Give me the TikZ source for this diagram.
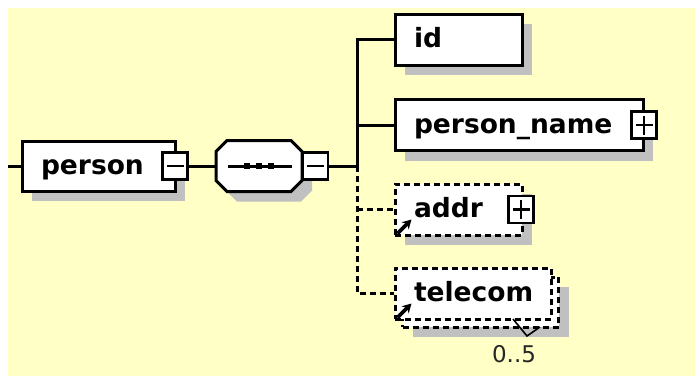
\documentclass[tikz,border=0pt]{standalone}
\usepackage{fontspec}
\setmainfont{DejaVu Sans}
\usetikzlibrary{shadows,arrows.meta}
\definecolor{bg}{HTML}{FFFFC6}
\definecolor{shadowgray}{HTML}{C0C0C0}
\begin{document}
\begin{tikzpicture}[x=1pt,y=-1pt,line width=3pt,
  shadowed/.style={drop shadow={shadow xshift=10pt,shadow yshift=-10pt,fill=shadowgray,opacity=1}},
  box/.style={draw,fill=white,line width=3pt,inner sep=0pt},
  elem/.style={box,shadowed},
  optdash/.style={dash pattern=on 6pt off 4pt},
  optelem/.style={box,shadowed,optdash},
  optbox/.style={box,optdash},
  lbl/.style={anchor=base west,inner sep=0pt,font=\fontsize{26.5}{30}\selectfont\bfseries},
  signbox/.style={draw,fill=white,line width=2.6pt,solid,minimum width=25pt,minimum height=27pt,inner sep=0pt},
  minusbox/.style={signbox,path picture={\draw[line width=2.6pt] ([xshift=4pt]path picture bounding box.west) -- ([xshift=-4pt]path picture bounding box.east);}},
  plusbox/.style={signbox,path picture={\draw[line width=2.6pt] ([xshift=4pt]path picture bounding box.west) -- ([xshift=-4pt]path picture bounding box.east);\draw[line width=2.6pt] ([yshift=-4pt]path picture bounding box.north) -- ([yshift=4pt]path picture bounding box.south);}},
  refarrow/.style={line width=3.6pt,solid,-{Stealth[length=9pt,width=10pt]}}
]
\useasboundingbox (0,0) rectangle (695,376);
\fill[white] (0,0) rectangle (695,376);
\fill[bg] (8,8) rectangle (695,376);

% named anchors
\coordinate (in) at (8,166);
\node[minimum width=86pt,minimum height=51pt,inner sep=0pt] (seq) at (259,166) {};
\coordinate (bus) at (357,166);

% person
\node[elem,minimum width=153pt,minimum height=50pt] (person) at (98.5,166) {};
\node[lbl] (person-t) at ([shift={(19,8)}]person.west) {person};
\node[minusbox] (person-m) at (175,166) {};

% sequence compositor (octagon)
\fill[shadowgray] (237,150.5) -- (301,150.5) -- (312,161.5) -- (312,190.5) -- (301,201.5) -- (237,201.5) -- (226,190.5) -- (226,161.5) -- cycle;
\draw[fill=white] (227,140.5) -- (291,140.5) -- (302,151.5) -- (302,180.5) -- (291,191.5) -- (227,191.5) -- (216,180.5) -- (216,151.5) -- cycle;
\draw (228,166) -- (292,166);
\fill (244,163) rectangle ++(6,6);
\fill (256,163) rectangle ++(6,6);
\fill (268,163) rectangle ++(6,6);
\node[minusbox] (seq-m) at (315.5,166) {};

% id
\node[elem,minimum width=127pt,minimum height=51pt] (id) at (458.5,39.5) {};
\node[lbl] (id-t) at ([shift={(19,8)}]id.west) {id};

% person_name
\node[elem,minimum width=248pt,minimum height=51pt] (pname) at (519,125) {};
\node[lbl] (pname-t) at ([shift={(19,8)}]pname.west) {person\_name};
\node[plusbox] (pname-p) at (644,125) {};

% addr
\node[optelem,minimum width=127pt,minimum height=51pt] (addr) at (458.5,209.5) {};
\node[lbl] (addr-t) at ([shift={(19,8)}]addr.west) {addr};
\node[plusbox] (addr-p) at (521,209.5) {};
\draw[refarrow] ([shift={(4,-3)}]addr.south west) -- ++(14,-14);

% telecom (multiple occurrences)
\node[optelem,minimum width=156pt,minimum height=50pt] (telecom-b) at (480.5,302) {};
\node[optbox,minimum width=156pt,minimum height=51pt] (telecom) at (473,293.5) {};
\node[lbl] (telecom-t) at ([shift={(19,8)}]telecom.west) {telecom};
\draw[refarrow] ([shift={(4,-3)}]telecom.south west) -- ++(14,-14);
\draw[line width=1.6pt] (513,319) -- (527,336) -- (540,327);
\node[font=\fontsize{23}{26}\selectfont,text=black!85,inner sep=0pt] (telecom-occ) at (514,354) {0..5};

% connectors
\draw (in) -- (person.west);
\draw (person-m.east) -- (seq.west);
\draw (seq-m.east) -- (bus);
\draw (bus) |- (id.west);
\draw (bus) |- (pname.west);
\draw[optdash] (bus) |- (telecom.west);
\draw[optdash] (bus |- addr.west) -- (addr.west);

\end{tikzpicture}
\end{document}
